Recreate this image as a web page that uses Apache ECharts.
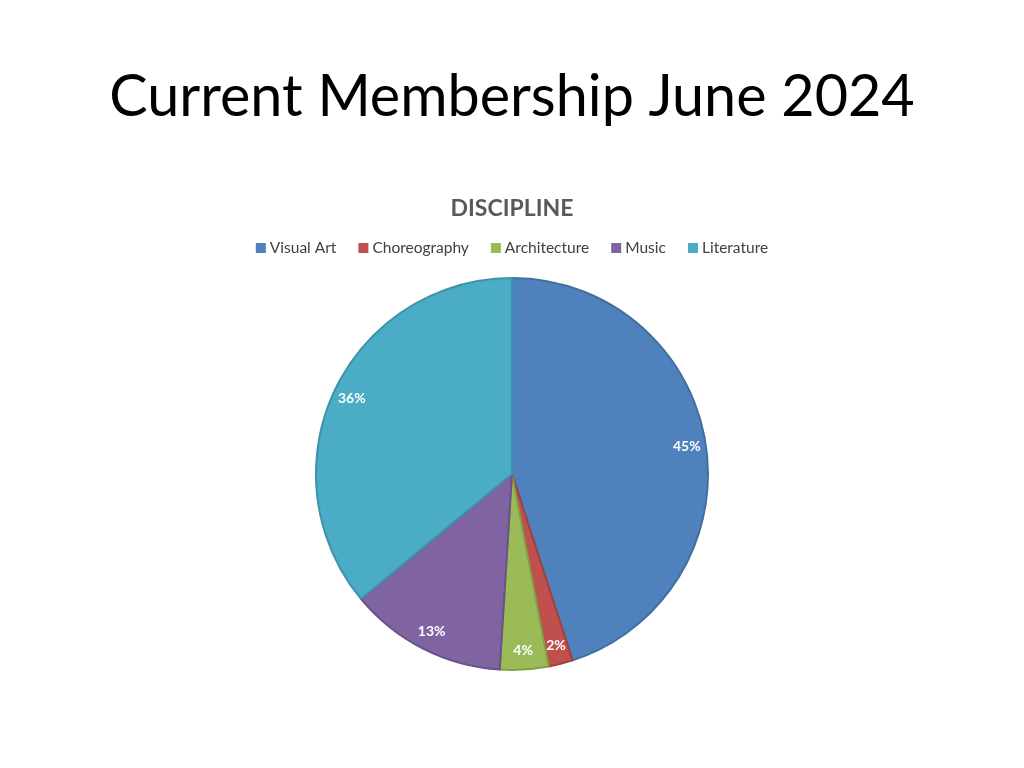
<!DOCTYPE html>
<html>
<head>
<meta charset="utf-8">
<script src="https://cdn.jsdelivr.net/npm/echarts@6/dist/echarts.min.js"></script>
<style>
html,body{margin:0;padding:0;background:#fff;}
#c{width:1024px;height:768px;}
</style>
</head>
<body>
<div id="c"></div>
<script>
var categories = ['Visual Art', 'Choreography', 'Architecture', 'Music', 'Literature'];
var values = [45, 2, 4, 13, 36];
var colors = ['#4F81BD', '#C0504D', '#9BBB59', '#8064A2', '#4BACC6'];
var borders = ['#41709F', '#A3403E', '#80A046', '#6A528A', '#3C93AA'];

var chart = echarts.init(document.getElementById('c'));
var pieData = categories.map(function (n, i) {
  return { name: n, value: values[i], itemStyle: { color: colors[i], borderColor: borders[i] } };
});
var labelData = categories.map(function (n, i) {
  return { name: n, value: values[i] };
});
chart.setOption({
  animation: false,
  title: [
    { text: 'Current Membership June 2024', left: 'center', top: 63,
      textStyle: { fontFamily: 'Lato', fontSize: 57.5, fontWeight: 'normal', color: '#000' } },
    { text: 'DISCIPLINE', left: 'center', top: 192,
      textStyle: { fontFamily: 'Lato', fontSize: 23, fontWeight: 'bold', color: '#595959' } }
  ],
  legend: {
    data: categories, top: 235, left: 'center', itemWidth: 10, itemHeight: 10, itemGap: 22,
    icon: 'rect',
    itemStyle: { borderWidth: 0 },
    textStyle: { fontFamily: 'Lato', fontSize: 15.5, color: '#404040', padding: [0, 0, 0, -1] }
  },
  series: [
    { type: 'pie', center: [512, 474], radius: [0, 196], startAngle: 90, clockwise: true,
      silent: true, label: { show: false }, labelLine: { show: false },
      itemStyle: { borderWidth: 2 }, data: pieData },
    { type: 'pie', center: [512, 474], radius: [148, 200], startAngle: 90, clockwise: true,
      silent: true, legendHoverLink: false,
      itemStyle: { color: 'rgba(0,0,0,0)', borderWidth: 0 },
      label: { show: true, position: 'inside', formatter: '{d}%',
        fontFamily: 'Lato', fontSize: 14, fontWeight: 'bold', color: '#fff' },
      labelLine: { show: false }, data: labelData }
  ]
});
</script>
</body>
</html>
